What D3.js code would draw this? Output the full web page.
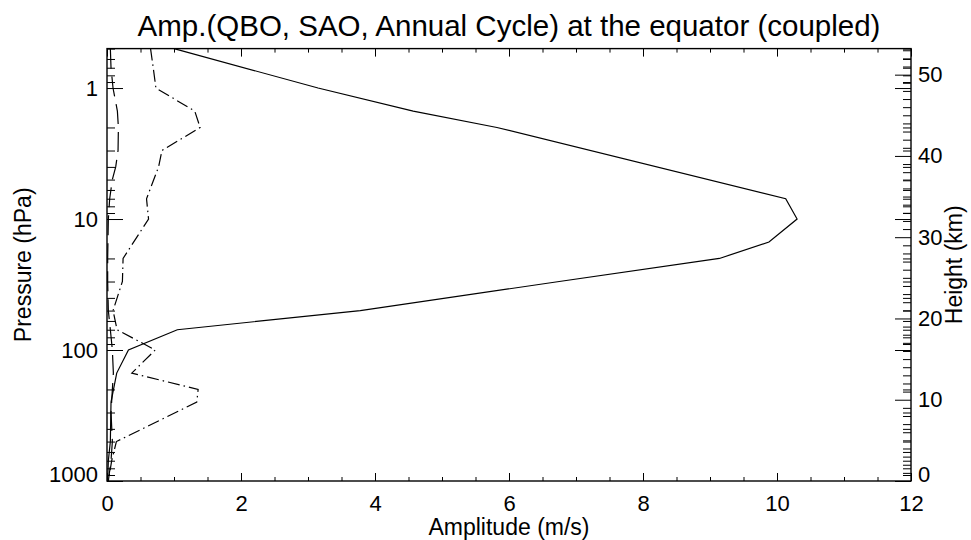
<!DOCTYPE html>
<html>
<head>
<meta charset="utf-8">
<script src="https://cdn.jsdelivr.net/npm/d3@7/dist/d3.min.js"></script>
<style>
  html, body { margin: 0; padding: 0; background: #fff; }
  svg { display: block; }
  text { font-family: "Liberation Sans", Arial, Helvetica, sans-serif; fill: #000; }
</style>
</head>
<body>
<svg id="chart" width="971" height="540"></svg>
<script>
// ---------------- data ----------------
const chartTitle = "Amp.(QBO, SAO, Annual Cycle) at the equator (coupled)";
const xTitle = "Amplitude (m/s)";
const yLeftTitle = "Pressure (hPa)";
const yRightTitle = "Height (km)";

const xTickValues = [0, 2, 4, 6, 8, 10, 12];
const pressureTickValues = [1, 10, 100, 1000];
const heightTickValues = [0, 10, 20, 30, 40, 50];

// QBO amplitude (solid)
const qboPressure = [0.5, 1, 1.5, 2, 7, 10, 15, 20, 30, 50, 70, 100, 150, 250, 500, 700, 1000];
const qboAmp      = [1.0, 3.15, 4.57, 5.82, 10.13, 10.3, 9.88, 9.14, 6.75, 3.78, 1.05, 0.32, 0.145, 0.06, 0.05, 0.02, 0.01];

// SAO amplitude (dash-dot)
const saoPressure = [0.5, 0.7, 1, 1.5, 2, 3, 4, 7, 10, 20, 30, 50, 70, 100, 150, 200, 250, 500, 700, 1000];
const saoAmp      = [0.65, 0.69, 0.73, 1.31, 1.39, 0.82, 0.77, 0.59, 0.62, 0.24, 0.23, 0.09, 0.15, 0.72, 0.37, 1.36, 1.34, 0.14, 0.07, 0.02];

// Annual cycle amplitude (long dashes)
const annPressure = [0.5, 0.7, 1, 1.5, 2, 3, 4, 5, 7, 10, 20, 30, 50, 70, 100, 150, 200, 300, 500, 700, 1000];
const annAmp      = [0.05, 0.06, 0.09, 0.155, 0.17, 0.165, 0.13, 0.08, 0.04, 0.02, 0.01, 0.01, 0.02, 0.05, 0.08, 0.095, 0.08, 0.06, 0.08, 0.06, 0.02];

// ---------------- layout ----------------
const W = 971, H = 540;
const plot = { left: 107, right: 911, top: 48.6, bottom: 481 };
const scaleHeight = 7; // km, z = H ln(1000/p)
const pTop = 0.5, pBottom = 1000;

const svg = d3.select("#chart");

const x = d3.scaleLinear().domain([0, 12]).range([plot.left, plot.right]);
const yP = d3.scaleLog().domain([pBottom, pTop]).range([plot.bottom, plot.top]);
const zTop = scaleHeight * Math.log(pBottom / pTop);
const yZ = d3.scaleLinear().domain([0, zTop]).range([plot.bottom, plot.top]);

const font = '"Liberation Sans", Arial, Helvetica, sans-serif';
const tickFont = 22;

// minor tick values
const xMinor = d3.range(0, 12.0001, 0.5).filter(v => Math.abs(v % 2) > 1e-6);
const pMinor = [];
[0.1, 1, 10, 100].forEach(dec => { for (let k = 2; k <= 9; k++) { const v = dec * k; if (v >= pTop && v <= pBottom) pMinor.push(v); } });
const zMinor = d3.range(0, Math.floor(zTop) + 1).filter(v => v % 10 !== 0);

function styleAxis(g) {
  g.select(".domain").remove();
  g.selectAll(".tick line").attr("stroke", "#000").attr("stroke-width", 1);
  g.selectAll("text").attr("font-family", font).attr("font-size", tickFont).attr("fill", "#000");
}

// bottom axis
svg.append("g").attr("transform", `translate(0,${plot.bottom})`)
  .call(d3.axisBottom(x).tickValues(xTickValues).tickSize(-8).tickPadding(14).tickFormat(d3.format("d")))
  .call(styleAxis);
svg.append("g").attr("transform", `translate(0,${plot.bottom})`)
  .call(d3.axisBottom(x).tickValues(xMinor).tickSize(-4).tickFormat(""))
  .call(styleAxis);
// top axis
svg.append("g").attr("transform", `translate(0,${plot.top})`)
  .call(d3.axisTop(x).tickValues(xTickValues).tickSize(-8).tickFormat(""))
  .call(styleAxis);
svg.append("g").attr("transform", `translate(0,${plot.top})`)
  .call(d3.axisTop(x).tickValues(xMinor).tickSize(-4).tickFormat(""))
  .call(styleAxis);

// left pressure axis
const gL = svg.append("g").attr("transform", `translate(${plot.left},0)`)
  .call(d3.axisLeft(yP).tickValues(pressureTickValues).tickSize(-16).tickPadding(9).tickFormat(d3.format("d")))
  .call(styleAxis);
gL.selectAll(".tick text").filter(d => Math.abs(yP(d) - plot.bottom) < 1).attr("dy", "0em");
svg.append("g").attr("transform", `translate(${plot.left},0)`)
  .call(d3.axisLeft(yP).tickValues(pMinor).tickSize(-8).tickFormat(""))
  .call(styleAxis);

// right height axis
const gR = svg.append("g").attr("transform", `translate(${plot.right},0)`)
  .call(d3.axisRight(yZ).tickValues(heightTickValues).tickSize(-16).tickPadding(7).tickFormat(d3.format("d")))
  .call(styleAxis);
gR.selectAll(".tick text").filter(d => Math.abs(yZ(d) - plot.bottom) < 1).attr("dy", "0em");
svg.append("g").attr("transform", `translate(${plot.right},0)`)
  .call(d3.axisRight(yZ).tickValues(zMinor).tickSize(-8).tickFormat(""))
  .call(styleAxis);
svg.append("g").attr("transform", `translate(${plot.right},0)`)
  .call(d3.axisRight(yP).tickValues(pressureTickValues.filter(v => v < pBottom)).tickSize(-16).tickFormat(""))
  .call(styleAxis);
svg.append("g").attr("transform", `translate(${plot.right},0)`)
  .call(d3.axisRight(yP).tickValues(pMinor).tickSize(-8).tickFormat(""))
  .call(styleAxis);

// frame
svg.append("rect")
  .attr("x", plot.left).attr("y", plot.top)
  .attr("width", plot.right - plot.left).attr("height", plot.bottom - plot.top)
  .attr("fill", "none").attr("stroke", "#000").attr("stroke-width", 1.4);

// series
const line = d3.line().x(d => x(d.amp)).y(d => yP(d.p));
const series = [
  { p: qboPressure, a: qboAmp, dash: null },
  { p: saoPressure, a: saoAmp, dash: "12,4,1.5,4" },
  { p: annPressure, a: annAmp, dash: "20,8" }
];
series.forEach(s => {
  const data = s.p.map((p, i) => ({ p, amp: s.a[i] }));
  svg.append("path").datum(data)
    .attr("d", line)
    .attr("fill", "none")
    .attr("stroke", "#000")
    .attr("stroke-width", 1.2)
    .attr("stroke-dasharray", s.dash);
});

// titles
svg.append("text").attr("x", (plot.left + plot.right) / 2).attr("y", 36)
  .attr("text-anchor", "middle").attr("font-size", 29.5).text(chartTitle);
svg.append("text").attr("x", (plot.left + plot.right) / 2).attr("y", 535)
  .attr("text-anchor", "middle").attr("font-size", 23).text(xTitle);
svg.append("text").attr("transform", `translate(31,${(plot.top + plot.bottom) / 2}) rotate(-90)`)
  .attr("text-anchor", "middle").attr("font-size", 23).text(yLeftTitle);
svg.append("text").attr("transform", `translate(962,${(plot.top + plot.bottom) / 2}) rotate(-90)`)
  .attr("text-anchor", "middle").attr("font-size", 23).text(yRightTitle);
</script>
</body>
</html>
